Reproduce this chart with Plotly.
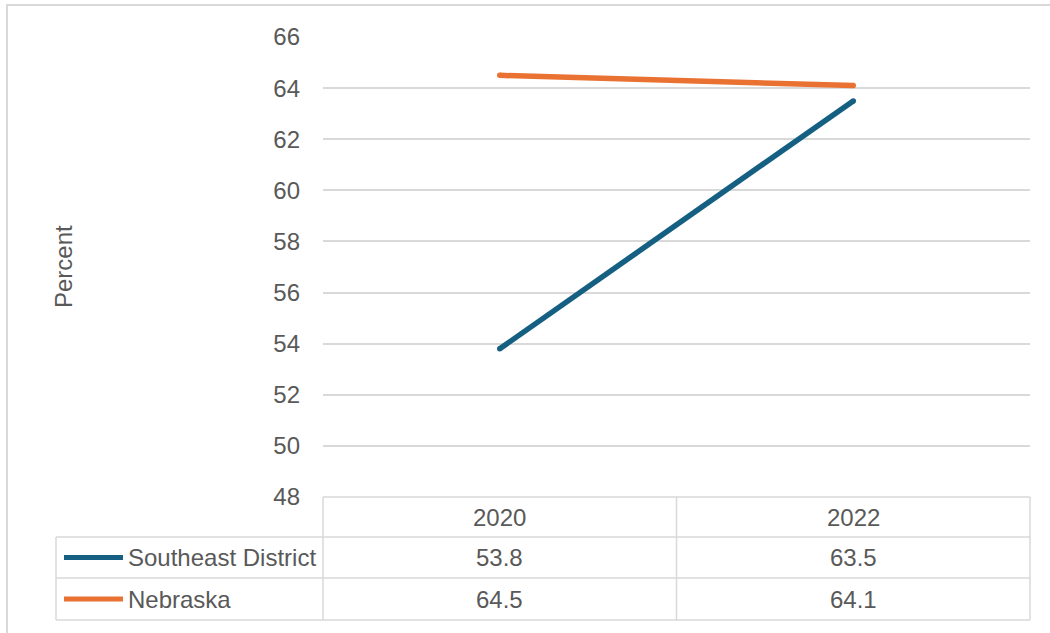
import plotly.graph_objects as go

years = ["2020", "2022"]
series_names = ["Southeast District", "Nebraska"]
southeast = [53.8, 63.5]
nebraska = [64.5, 64.1]
series_values = [southeast, nebraska]
colors = ["#156082", "#E97132"]
y_ticks = [48, 50, 52, 54, 56, 58, 60, 62, 64, 66]

W, H = 1050, 633
def px(x):
    return x / W
def py(y):
    return 1 - y / H

GRID = "#D9D9D9"
TXT = "#595959"
FONT = "Liberation Sans"
FS = 24

fig = go.Figure()
xs = list(range(len(years)))
for name, vals, col in zip(series_names, series_values, colors):
    fig.add_trace(go.Scatter(x=xs, y=vals, mode="lines+markers", name=name,
                             line=dict(color=col, width=5.5),
                             marker=dict(color=col, size=5.5, line=dict(width=0)),
                             showlegend=False))

shapes = []
annotations = []
# outer chart border
shapes.append(dict(type="rect", xref="paper", yref="paper",
                   x0=px(7), x1=px(1060), y0=py(5), y1=py(650),
                   line=dict(color=GRID, width=2)))
# data table grid
plot_l, plot_r = 323, 1030
label_l = 56
colw = (plot_r - plot_l) / len(years)
line = dict(color=GRID, width=1.5)
shapes.append(dict(type="line", xref="paper", yref="paper", x0=px(plot_l), x1=px(plot_r), y0=py(497), y1=py(497), line=line))
for yy in [537, 578, 620]:
    shapes.append(dict(type="line", xref="paper", yref="paper", x0=px(label_l), x1=px(plot_r), y0=py(yy), y1=py(yy), line=line))
shapes.append(dict(type="line", xref="paper", yref="paper", x0=px(label_l), x1=px(label_l), y0=py(537), y1=py(620), line=line))
for i in range(len(years) + 1):
    xx = plot_l + i * colw
    shapes.append(dict(type="line", xref="paper", yref="paper", x0=px(xx), x1=px(xx), y0=py(497), y1=py(620), line=line))
for i, yr in enumerate(years):
    annotations.append(dict(x=i, xref="x", y=py(517), yref="paper", text=yr, showarrow=False,
                            font=dict(family=FONT, size=FS, color=TXT), xanchor="center", yanchor="middle"))
row_centers = [557.5, 599]
for r, (name, vals, col) in enumerate(zip(series_names, series_values, colors)):
    yc = row_centers[r]
    shapes.append(dict(type="line", xref="paper", yref="paper", x0=px(64), x1=px(123), y0=py(yc), y1=py(yc),
                       line=dict(color=col, width=5)))
    annotations.append(dict(x=px(126), xref="paper", y=py(yc), yref="paper", text=name, showarrow=False,
                            font=dict(family=FONT, size=FS, color=TXT), xanchor="left", yanchor="middle"))
    for i, v in enumerate(vals):
        annotations.append(dict(x=i, xref="x", y=py(yc), yref="paper", text=f"{v:.1f}", showarrow=False,
                                font=dict(family=FONT, size=FS, color=TXT), xanchor="center", yanchor="middle"))
annotations.append(dict(x=px(63), xref="paper", y=py(267), yref="paper", text="Percent", textangle=-90,
                        showarrow=False, font=dict(family=FONT, size=FS, color=TXT),
                        xanchor="center", yanchor="middle"))

fig.update_layout(
    width=W, height=H,
    margin=dict(l=0, r=0, t=0, b=0, autoexpand=False),
    paper_bgcolor="white", plot_bgcolor="white",
    shapes=shapes, annotations=annotations,
    xaxis=dict(domain=[px(plot_l), px(plot_r)], range=[-0.5, len(years) - 0.5], automargin=False,
               showticklabels=False, showgrid=False, zeroline=False, showline=False, fixedrange=True),
    yaxis=dict(domain=[py(497), py(37)], range=[48, 66], tickvals=y_ticks, automargin=False,
               showgrid=True, gridcolor=GRID, gridwidth=1.5, zeroline=False, showline=False,
               tickfont=dict(family=FONT, size=FS, color=TXT), ticklabelstandoff=22),
)

fig.write_html("out.html", post_script="document.body.style.margin='0';document.body.style.overflow='hidden';",
               config={"displayModeBar": False})
